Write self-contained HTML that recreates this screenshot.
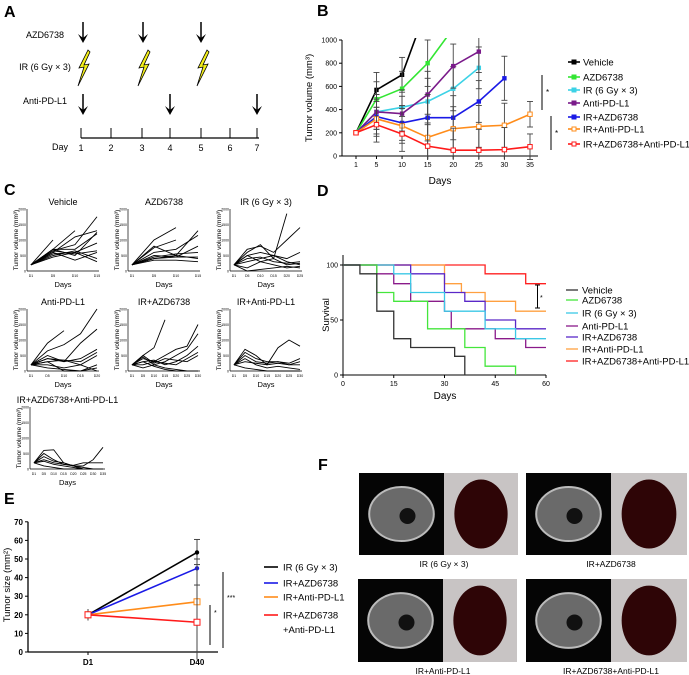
<!DOCTYPE html>
<html><head><meta charset="utf-8"><style>
html,body{margin:0;padding:0;background:#fff;}
svg{display:block;font-family:"Liberation Sans",Arial,sans-serif;}
</style></head><body>
<svg id="fig" width="689" height="675" viewBox="0 0 689 675" xmlns="http://www.w3.org/2000/svg">
<g>
<text x="4" y="17" font-size="16" font-weight="bold">A</text>
<text x="45" y="38" font-size="9" text-anchor="middle">AZD6738</text>
<text x="45" y="70" font-size="9" text-anchor="middle">IR (6 Gy × 3)</text>
<text x="45" y="104" font-size="9" text-anchor="middle">Anti-PD-L1</text>
<text x="60" y="150" font-size="9" text-anchor="middle">Day</text>
</g>
<g id="pA"></g>
<g id="pB"></g>
<g id="pC"></g>
<g id="pD"></g>
<g id="pE"></g>
<g id="pF"></g>
</svg>
<script>
// ---------- Panel B data ----------
const bDays=[1,5,10,15,20,25,30,35];
const bNames=["Vehicle","AZD6738","IR (6 Gy × 3)","Anti-PD-L1","IR+AZD6738","IR+Anti-PD-L1","IR+AZD6738+Anti-PD-L1"];
const bColors=["#000","#33e633","#3cd2e6","#7a1a8a","#1a1ae6","#ff8c1a","#ff1a1a"];
const bVehicle=[200,570,700,1300];
const bAzd=[200,490,580,800,1100];
const bIr=[200,380,420,470,580,760];
const bAnti=[200,380,365,530,775,900];
const bIrAzd=[200,340,285,330,330,470,670];
const bIrAnti=[200,320,260,160,235,255,265,360];
const bTriple=[200,270,190,85,50,50,55,80];
const bErr=[0,150,150,200,190,180,190,110];
const bTicksY=[0,200,400,600,800,1000];
// ---------- Panel C data ----------
const cTitles=["Vehicle","AZD6738","IR (6 Gy × 3)","Anti-PD-L1","IR+AZD6738","IR+Anti-PD-L1","IR+AZD6738+Anti-PD-L1"];
const cTickCounts=[4,4,6,5,7,7,8];
const cVehicle=[[200,1000],[200,700,1300],[200,650,850,1750],[200,600,1100,1300],[200,700,500,1250],[200,550,600,900],[200,600,350,600],[200,500,650,400],[200,450,600,300],[200,700,700,1200],[200,650,550,650]];
const cAzd=[[200,1000,1400],[200,750,1000],[200,800,500,1300],[200,600,700,1150],[200,500,450,800],[200,450,550,600],[200,400,450,450],[200,350,350,300],[200,400,500,400]];
const cIr=[[200,600,850,400,1850],[200,700,800,600,1000,1400],[200,500,600,500,400,600],[200,300,400,500,300,200],[200,100,300,200,100,150],[200,400,450,300,250,300],[200,0,50,100,150,100],[200,500,300,400,200,250]];
const cAnti=[[200,900,1300],[200,650,850,1200,2000],[200,500,300,900,1350],[200,400,300,400,700],[200,300,350,300,600],[200,200,100,200,500],[200,100,50,0,200],[200,400,350,200,0],[200,300,0,0,100]];
const cIrAzd=[[200,500,750,1650],[200,400,300,500,700,800,1500],[200,450,200,300,500,700,1200],[200,300,350,200,300,500,800],[200,200,300,250,200,400,600],[200,100,200,100,50,0,0],[200,500,250,400,350,300,500],[200,300,150,50,0,0,0]];
const cIrAnti=[[200,700,500,200,750,1000,800],[200,600,400,300,300,250,400],[200,300,250,200,250,200,300],[200,400,200,100,150,100,50],[200,100,50,0,0,0,0],[200,500,300,250,300,200,200]];
const cTriple=[[200,600,620,200,100,100,300,700],[200,500,300,150,120,200,200,200],[200,400,250,200,100,50,0,0],[200,300,200,150,100,0,0,0],[200,250,150,100,50,0,0,0],[200,100,50,0,0,0,0,0]];
// ---------- Panel D data ----------
const dNames=bNames;
const dColors=["#333","#44e63c","#3cc8e6","#8a1a8a","#5a28c8","#ffa040","#ff2020"];
const dVehicleT=[0,5,10,15,20,33,36], dVehicleS=[100,92,58,33,25,17,0];
const dAzdT=[0,10,15,25,36,42,51], dAzdS=[100,75,67,42,25,8,0];
const dIrT=[0,15,20,30,42,51,60], dIrS=[100,92,75,58,42,33,33];
const dAntiT=[0,10,15,20,30,32,45,54,60], dAntiS=[100,92,83,67,58,42,33,25,25];
const dIrAzdT=[0,20,30,36,42,51,60], dIrAzdS=[100,92,75,67,50,42,42];
const dIrAntiT=[0,20,30,35,42,51,60], dIrAntiS=[100,100,83,75,67,58,58];
const dTripleT=[0,42,54,60], dTripleS=[100,92,83,83];
const dTicksX=[0,15,30,45,60], dTicksY=[0,50,100];
// ---------- Panel E data ----------
const eCats=["D1","D40"];
const eNames=["IR (6 Gy × 3)","IR+AZD6738","IR+Anti-PD-L1","IR+AZD6738"];
const eColors=["#000","#1a1ae6","#ff8c1a","#ff1a1a"];
const eIr=[20,53.5], eIrAzd=[20,45], eIrAnti=[20,27], eTriple=[20,16];
const eErrD40=[7,5,20,20];
const eTicks=[0,10,20,30,40,50,60,70];

const NS="http://www.w3.org/2000/svg";
function mk(parent,tag,attrs){const e=document.createElementNS(NS,tag);for(const k in attrs)e.setAttribute(k,attrs[k]);parent.appendChild(e);return e;}
function txt(parent,x,y,s,size,anchor,extra){const t=mk(parent,"text",Object.assign({x:x,y:y,"font-size":size,"text-anchor":anchor||"start"},extra||{}));t.textContent=s;return t;}

// ---------- Panel A ----------
const pA=document.getElementById("pA");
function arrow(x,y1,y2,name){const g=mk(pA,"g",{});


mk(g,"line",{x1:x,y1:y1,x2:x,y2:y2-3,stroke:"#000","stroke-width":1.5});mk(g,"path",{d:`M${x-5} ${y2-9} L${x} ${y2} L${x+5} ${y2-9} L${x} ${y2-5}Z`,fill:"#000"});}
[83,143,201].forEach((x,i)=>arrow(x,22,43,"azd-arrow-"+(i+1)));
[83,170,257].forEach((x,i)=>arrow(x,94,115,"anti-arrow-"+(i+1)));
[83,143,202].forEach((x,i)=>{const p=mk(pA,"path",{d:`M${x+5} 50 L${x-4} 68 L${x+1} 67 L${x-5} 86 L${x+6} 64 L${x+1} 65 L${x+7} 52Z`,fill:"#f5f01a",stroke:"#000","stroke-width":0.8});

});
const aAxis=mk(pA,"line",{x1:81,y1:138,x2:259,y2:138,stroke:"#000","stroke-width":1.2});


[81,111,142,170,201,230,257].forEach((x,i)=>{mk(pA,"line",{x1:x,y1:128,x2:x,y2:138,stroke:"#000","stroke-width":1});const t=txt(pA,x,151,String(i+1),9,"middle");

});

// ---------- Panel B ----------
const pB=document.getElementById("pB");
txt(pB,317,16,"B",16,"start",{"font-weight":"bold"});
const bx=d=>356+(d-1)*(530-356)/34, by=v=>156-v*116/1000;
mk(pB,"clipPath",{id:"bclip"}).appendChild(document.createElementNS(NS,"rect"));
const cr=document.querySelector("#bclip rect");cr.setAttribute("x",342);cr.setAttribute("y",38);cr.setAttribute("width",200);cr.setAttribute("height",122);
mk(pB,"line",{x1:342,y1:40,x2:342,y2:156,stroke:"#000"});mk(pB,"line",{x1:342,y1:156,x2:538,y2:156,stroke:"#000"});
bTicksY.forEach(v=>{mk(pB,"line",{x1:339,y1:by(v),x2:342,y2:by(v),stroke:"#000"});txt(pB,337,by(v)+2.5,String(v),7,"end");});
bDays.forEach(d=>{mk(pB,"line",{x1:bx(d),y1:156,x2:bx(d),y2:159,stroke:"#000"});txt(pB,bx(d),167,String(d),7,"middle");});
txt(pB,440,184,"Days",10,"middle");
const yl=txt(pB,0,0,"Tumor volume (mm³)",9.5,"middle",{transform:"translate(312,98) rotate(-90)"});


const bSeries=[bVehicle,bAzd,bIr,bAnti,bIrAzd,bIrAnti,bTriple];
bSeries.forEach((s,k)=>{const g=mk(pB,"g",{"clip-path":"url(#bclip)"});


s.forEach((v,i)=>{if(i>0&&v<1000){const e=bErr[i];mk(g,"line",{x1:bx(bDays[i]),y1:by(v-e),x2:bx(bDays[i]),y2:by(v+e),stroke:"#444","stroke-width":0.9});[v-e,v+e].forEach(q=>mk(g,"line",{x1:bx(bDays[i])-3,y1:by(q),x2:bx(bDays[i])+3,y2:by(q),stroke:"#444","stroke-width":0.9}));}});
mk(g,"polyline",{points:s.map((v,i)=>bx(bDays[i])+","+by(v)).join(" "),fill:"none",stroke:bColors[k],"stroke-width":1.6});
s.forEach((v,i)=>{const m=mk(g,"rect",{x:bx(bDays[i])-2.2,y:by(v)-2.2,width:4.4,height:4.4,fill:k>=5?"#fff":bColors[k],stroke:k>=5?bColors[k]:"none","stroke-width":1});

});});
const bLegY=[62,77,90,103,117,129,144];
bNames.forEach((n,k)=>{const g=mk(pB,"g",{});


mk(g,"line",{x1:568,y1:bLegY[k],x2:580,y2:bLegY[k],stroke:bColors[k],"stroke-width":1.6});mk(g,"rect",{x:572,y:bLegY[k]-2,width:4,height:4,fill:k>=5?"#fff":bColors[k],stroke:bColors[k]});txt(g,583,bLegY[k]+3.5,n,9.5);});
mk(pB,"line",{x1:542,y1:75,x2:542,y2:110,stroke:"#000"});txt(pB,546,95,"*",8);
mk(pB,"line",{x1:551,y1:116,x2:551,y2:150,stroke:"#000"});txt(pB,555,136,"*",8);

// ---------- Panel C ----------
const pC=document.getElementById("pC");
txt(pC,4,195,"C",16,"start",{"font-weight":"bold"});
const cData=[cVehicle,cAzd,cIr,cAnti,cIrAzd,cIrAnti,cTriple];
const cPos=[[27,209],[128,209],[230,209],[27,309],[128,309],[230,309],[30,407]];
cData.forEach((lines,p)=>{const [x0,y0]=cPos[p],w=(p==6?75:72),h=(p==6?62:62),n=cTickCounts[p];
const g=mk(pC,"g",{});


const sx=i=>x0+4+i*(w-6)/(n-1), sy=v=>y0+h-v*h/2000;
txt(g,x0+w/2,y0-4,cTitles[p],9,"middle");
mk(g,"line",{x1:x0,y1:y0,x2:x0,y2:y0+h,stroke:"#000","stroke-width":0.7});mk(g,"line",{x1:x0,y1:y0+h,x2:x0+w,y2:y0+h,stroke:"#000","stroke-width":0.7});
[0,500,1000,1500,2000].forEach(v=>txt(g,x0-1,sy(v)+1.5,String(v),3.5,"end"));
for(let i=0;i<n;i++){txt(g,sx(i),y0+h+6,"D"+(i==0?1:i*5),3.5,"middle");}
txt(g,x0+w/2,y0+h+16,"Days",7.5,"middle");
txt(g,0,0,"Tumor volume (mm³)",6.5,"middle",{transform:`translate(${x0-9},${y0+h/2}) rotate(-90)`});
lines.forEach(l=>{const pl=mk(g,"polyline",{points:l.map((v,i)=>sx(i)+","+sy(v)).join(" "),fill:"none",stroke:"#000","stroke-width":0.9});

});});

// ---------- Panel D ----------
const pD=document.getElementById("pD");
txt(pD,317,196,"D",16,"start",{"font-weight":"bold"});
const dx=t=>343+t*(546-343)/60, dy=s=>375-s*110/100;
mk(pD,"line",{x1:343,y1:255,x2:343,y2:375,stroke:"#000"});mk(pD,"line",{x1:343,y1:375,x2:546,y2:375,stroke:"#000"});
dTicksY.forEach(v=>{mk(pD,"line",{x1:340,y1:dy(v),x2:343,y2:dy(v),stroke:"#000"});txt(pD,338,dy(v)+2.5,String(v),7,"end");});
dTicksX.forEach(v=>{mk(pD,"line",{x1:dx(v),y1:375,x2:dx(v),y2:378,stroke:"#000"});txt(pD,dx(v),386,String(v),7,"middle");});
txt(pD,445,399,"Days",10,"middle");
txt(pD,0,0,"Survival",9.5,"middle",{transform:"translate(329,315) rotate(-90)"});
const dT=[dVehicleT,dAzdT,dIrT,dAntiT,dIrAzdT,dIrAntiT,dTripleT],dS=[dVehicleS,dAzdS,dIrS,dAntiS,dIrAzdS,dIrAntiS,dTripleS];
[6,5,4,3,2,1,0].forEach(k=>{let d=`M${dx(dT[k][0])} ${dy(dS[k][0])}`;for(let i=1;i<dT[k].length;i++){d+=` H${dx(dT[k][i])} V${dy(dS[k][i])}`;}
const p=mk(pD,"path",{d:d,fill:"none",stroke:dColors[k],"stroke-width":1.3});

});
mk(pD,"path",{d:"M535 285 h5 M537.5 285 V308 M535 308 h5",stroke:"#000",fill:"none"});txt(pD,540,300,"*",7);
const dLegY=[290,300,313,326,337,349,361];
dNames.forEach((n,k)=>{const g=mk(pD,"g",{});


mk(g,"line",{x1:566,y1:dLegY[k],x2:578,y2:dLegY[k],stroke:dColors[k],"stroke-width":1.3});txt(g,582,dLegY[k]+3.5,n,9.5);});

// ---------- Panel E ----------
const pE=document.getElementById("pE");
txt(pE,4,504,"E",16,"start",{"font-weight":"bold"});
const ex=i=>88+i*(197-88), ey=v=>652-v*18.6/10;
mk(pE,"line",{x1:28,y1:ey(70),x2:28,y2:652,stroke:"#000","stroke-width":1.3});mk(pE,"line",{x1:28,y1:652,x2:218,y2:652,stroke:"#000","stroke-width":1.3});
eTicks.forEach(v=>{mk(pE,"line",{x1:25,y1:ey(v),x2:28,y2:ey(v),stroke:"#000"});txt(pE,23,ey(v)+3,String(v),8,"end",{"font-weight":"bold"});});
eCats.forEach((c,i)=>{mk(pE,"line",{x1:ex(i),y1:652,x2:ex(i),y2:655,stroke:"#000"});txt(pE,ex(i),665,c,8,"middle",{"font-weight":"bold"});});
txt(pE,0,0,"Tumor size (mm²)",9.5,"middle",{transform:"translate(10,585) rotate(-90)"});
const eS=[eIr,eIrAzd,eIrAnti,eTriple];
eS.forEach((s,k)=>{const g=mk(pE,"g",{});


const e=eErrD40[k];mk(g,"line",{x1:ex(1),y1:ey(s[1]-e),x2:ex(1),y2:ey(s[1]+e),stroke:"#444"});mk(g,"line",{x1:ex(1)-3,y1:ey(s[1]+e),x2:ex(1)+3,y2:ey(s[1]+e),stroke:"#444"});
mk(g,"line",{x1:ex(0),y1:ey(s[0]-3),x2:ex(0),y2:ey(s[0]+3),stroke:"#444"});
mk(g,"polyline",{points:s.map((v,i)=>ex(i)+","+ey(v)).join(" "),fill:"none",stroke:eColors[k],"stroke-width":1.6});
s.forEach((v,i)=>mk(g,k>=2?"rect":"circle",k>=2?{x:ex(i)-3,y:ey(v)-3,width:6,height:6,fill:"#fff",stroke:eColors[k]}:{cx:ex(i),cy:ey(v),r:2.2,fill:eColors[k]}));});
mk(pE,"line",{x1:210,y1:605,x2:210,y2:645,stroke:"#000"});txt(pE,214,615,"*",7);
mk(pE,"line",{x1:223,y1:572,x2:223,y2:648,stroke:"#000"});txt(pE,227,600,"***",7);
const eLegY=[567,583,597,615];
eNames.forEach((n,k)=>{const g=mk(pE,"g",{});


mk(g,"line",{x1:264,y1:eLegY[k],x2:278,y2:eLegY[k],stroke:eColors[k],"stroke-width":1.6});txt(g,283,eLegY[k]+3.5,n,9.5);});
txt(pE,283,633,"+Anti-PD-L1",9.5);

// ---------- Panel F ----------
const pF=document.getElementById("pF");
txt(pF,318,470,"F",16,"start",{"font-weight":"bold"});
const fPanels=[[359,444,518,473,555,"IR (6 Gy × 3)"],[526,611,687,473,555,"IR+AZD6738"],[358,443,517,579,662,"IR+Anti-PD-L1"],[526,611,687,579,662,"IR+AZD6738+Anti-PD-L1"]];
fPanels.forEach((f,i)=>{const [a,b,c,t,bt,cap]=f;const g=mk(pF,"g",{});


mk(g,"rect",{x:a,y:t,width:b-a,height:bt-t,fill:"#050505"});
mk(g,"ellipse",{cx:(a+b)/2,cy:(t+bt)/2,rx:(b-a)*0.38,ry:(bt-t)*0.33,fill:"#6a6a6a",stroke:"#bbb","stroke-width":2});
mk(g,"ellipse",{cx:(a+b)/2+6,cy:(t+bt)/2+2,rx:8,ry:8,fill:"#111"});
mk(g,"rect",{x:b,y:t,width:c-b,height:bt-t,fill:"#c8c4c4"});
mk(g,"ellipse",{cx:(b+c)/2,cy:(t+bt)/2,rx:(c-b)*0.36,ry:(bt-t)*0.42,fill:"#2e0506"});
txt(g,b,bt+12,cap,8.5,"middle");});
</script>
</body></html>
